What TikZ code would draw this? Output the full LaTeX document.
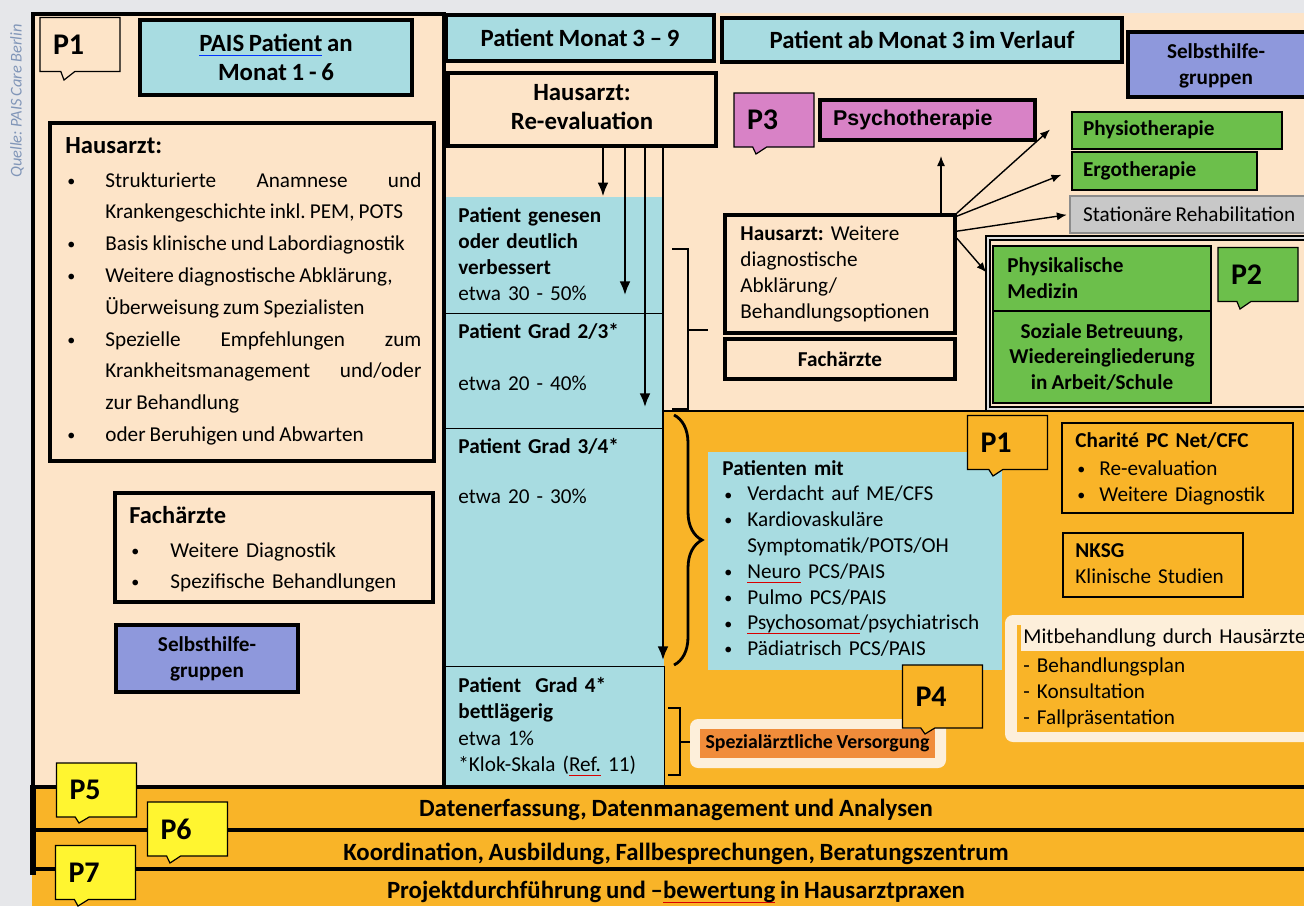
\documentclass[tikz,border=0pt]{standalone}
\usepackage{fontspec}
\setmainfont{Carlito}[WordSpace=0.85]
\newfontfamily\arialfont{Liberation Sans}
\usetikzlibrary{arrows.meta,fit,shapes.callouts,decorations.pathreplacing}
\definecolor{bggray}{HTML}{E6E7EA}
\definecolor{peach}{HTML}{FDE4C8}
\definecolor{tealc}{HTML}{A8DCE1}
\definecolor{orangec}{HTML}{F9B428}
\definecolor{purplec}{HTML}{8E98DC}
\definecolor{pinkc}{HTML}{D882C6}
\definecolor{greenc}{HTML}{6CBF4B}
\definecolor{grayc}{HTML}{C8C8C8}
\definecolor{yellowc}{HTML}{FFF530}
\definecolor{spezc}{HTML}{F08C3A}
\definecolor{creamc}{HTML}{FDEFDA}
\definecolor{quellec}{HTML}{8196B8}
\frenchspacing
\newsavebox{\ulbox}
\newcommand{\redwave}[1]{\sbox{\ulbox}{#1}\rlap{\textcolor{red!85!black}{\rule[-2.3pt]{\wd\ulbox}{0.5pt}}}\usebox{\ulbox}}
\newcommand{\blueline}[1]{\sbox{\ulbox}{#1}\rlap{\textcolor{blue!80!cyan}{\rule[-2.2pt]{\wd\ulbox}{0.6pt}}}\usebox{\ulbox}}
\newcommand{\fs}[2]{\fontsize{#1}{#2}\selectfont}
\newcommand{\bitem}[2]{\par\hangindent=#1\hangafter=1\noindent\makebox[#1][l]{\hspace{1pt}\raisebox{0.4pt}{\fs{8}{8}\textbullet}}#2}
\begin{document}
\begin{tikzpicture}[x=0.5pt,y=-0.5pt,font=\fs{10.6}{13},
box/.style={draw,line width=2pt,inner sep=0pt},
ptag/.style={rectangle callout,draw,line width=0.6pt,callout pointer width=7pt,inner xsep=6.5pt,inner ysep=0pt,text width=27pt,minimum height=27pt,align=left,font=\bfseries\fs{15}{15}},
txt/.style={anchor=base west,inner sep=0pt,align=left},
head/.style={font=\bfseries\fs{12.4}{14.5},align=center},
bold/.style={font=\bfseries\fs{10.6}{13},align=center},
arr/.style={-{Latex[length=5pt,width=4pt]},line width=0.7pt},
colarr/.style={-{Latex[length=7pt,width=5.5pt]},line width=1.4pt}]
\useasboundingbox (0,0) rectangle (1304,906);
\fill[bggray] (0,0) rectangle (1304,906);
\fill[peach] (32,13) rectangle (1312,787);
\fill[orangec] (664,411) rectangle (1312,787);
\fill[orangec] (32,787) rectangle (1312,906);
\node[rotate=90,font=\itshape\fs{8.2}{10},text=quellec] (quelle) at (17,101) {Quelle: PAIS Care Berlin};
\node[fill=tealc,inner sep=0pt,fit={(445,197)(664,313)}] (cella) {};
\node[fill=tealc,inner sep=0pt,fit={(445,313)(664,428)}] (cellb) {};
\node[fill=tealc,inner sep=0pt,fit={(445,428)(664,666)}] (cellc) {};
\node[fill=tealc,inner sep=0pt,fit={(445,666)(664,787)}] (celld) {};
\draw[line width=0.8pt] (cella.south west) -- (cella.south east);
\draw[line width=0.8pt] (cellb.south west) -- (cellb.south east);
\draw[line width=0.8pt] (cellc.south west) -- (cellc.south east);
\draw[line width=0.8pt] (celld.north east) -- (celld.south east);
\node[txt,text width=100pt] (cellatxt) at (458,222) {\textbf{Patient genesen}\\\textbf{oder deutlich}\\\textbf{verbessert}\\etwa 30 - 50\%};
\node[txt,text width=100pt] (cellbtxt) at (458,338) {\textbf{Patient Grad 2/3*}\\[13pt]etwa 20 - 40\%};
\node[txt,text width=100pt] (cellctxt) at (458,453) {\textbf{Patient Grad 3/4*}\\[12pt]etwa 20 - 30\%};
\node[txt,text width=100pt,font=\fs{10.6}{13.3}] (celldtxt) at (458,692) {\textbf{Patient\ \ Grad 4*}\\\textbf{bettlägerig}\\etwa 1\%\\{}*Klok-Skala (\redwave{Ref.} 11)};
\node[box,fit={(33,14)(444,787)}] (leftpanel) {};
\node[ptag,fill=peach,callout absolute pointer={(64,80)}] (pone) at (80,44.5) {P1};
\node[box,line width=2.2pt,fill=tealc,fit={(140,20)(412,95)}] (pais) {};
\node[head] (paistxt) at (pais) {\blueline{PAIS Patient} an\\Monat 1 - 6};
\node[box,line width=1.6pt,fit={(50,123)(434,461)}] (hausarzt) {};
\node[txt,text width=178pt,align=justify,font=\fs{10.6}{15.9}] (hausarzttxt) at (65,153) {{\bfseries\fs{12.3}{15.9}Hausarzt:}\par\vspace{1.1pt}\bitem{20pt}{Strukturierte Anamnese und\linebreak Krankengeschichte inkl. PEM, POTS}\bitem{20pt}{Basis klinische und Labordiagnostik}\bitem{20pt}{Weitere diagnostische Abklärung,\newline Überweisung zum Spezialisten}\bitem{20pt}{Spezielle Empfehlungen zum\linebreak Krankheitsmanagement und/oder\linebreak zur Behandlung}\bitem{20pt}{oder Beruhigen und Abwarten}};
\node[box,line width=1.6pt,fit={(115,493)(433,602)}] (fachlinks) {};
\node[txt,text width=150pt,font=\fs{10.6}{15.5}] (fachlinkstxt) at (129,523) {{\bfseries\fs{12.2}{15.5}Fachärzte}\par\vspace{1.5pt}\bitem{20.5pt}{Weitere Diagnostik}\bitem{20.5pt}{Spezifische Behandlungen}};
\node[box,fill=purplec,fit={(116,625)(298,692)}] (shgleft) {};
\node[bold] (shglefttxt) at (shgleft) {Selbsthilfe-\\gruppen};
\node[box,fill=tealc,fit={(446,15)(714,61)}] (hdrmid) {};
\node[head] (hdrmidtxt) at (hdrmid) {Patient Monat 3 – 9};
\node[box,fill=tealc,fit={(722,18)(1122,62)}] (hdrright) {};
\node[head] (hdrrighttxt) at (hdrright) {Patient ab Monat 3 im Verlauf};
\node[box,fill=purplec,fit={(1128,32)(1308,97)}] (shgright) {};
\node[bold] (shgrighttxt) at (1216,66) {Selbsthilfe-\\gruppen};
\node[box,fill=peach,fit={(448,73)(716,146)}] (reeval) {};
\node[head] (reevaltxt) at ([yshift=1pt]reeval.center) {Hausarzt:\\Re-evaluation};
\draw[colarr] (603,0 |- reeval.south) -- (603,0 |- cella.north);
\draw[colarr,shorten >=9pt] (625,0 |- reeval.south) -- (625,0 |- cella.south);
\draw[colarr,shorten >=10.5pt] (645,0 |- reeval.south) -- (645,0 |- cellb.south);
\draw[colarr,shorten >=3pt] (663,0 |- reeval.south) -- (663,0 |- cellc.south);
\draw[line width=1.1pt] (672,249) -- (688,249) -- (688,409) -- (672,409) (688,330) -- (708,330);
\draw[line width=1.4pt] (664,411) -- (1312,411);
\draw[line width=1.4pt,decorate,decoration={brace,amplitude=14pt}] (674,415) -- (674,665);
\draw[line width=1.3pt] (668,708) -- (680,708) -- (680,775) -- (668,775) (680,742) -- (690,742);
\node[fill=tealc,inner sep=0pt,fit={(708,452)(1002,670)}] (pmit) {};
\node[txt,text width=140pt,font=\fs{10.6}{12.9}] (pmittxt) at (722,475) {\textbf{Patienten mit}\bitem{12.5pt}{Verdacht auf ME/CFS}\bitem{12.5pt}{Kardiovaskuläre\newline Symptomatik/POTS/OH}\bitem{12.5pt}{\redwave{Neuro} PCS/PAIS}\bitem{12.5pt}{Pulmo PCS/PAIS}\bitem{12.5pt}{\redwave{Psychosomat}/psychiatrisch}\bitem{12.5pt}{Pädiatrisch PCS/PAIS}};
\node[ptag,fill=orangec,callout absolute pointer={(993,476)}] (poneb) at (1007.5,442.5) {P1};
\node[box,line width=1.4pt,fit={(1062,423)(1293,513)}] (charite) {};
\node[txt,text width=105pt] (charitetxt) at (1075,447) {\textbf{Charité PC Net/CFC}\par\vspace{1pt}\bitem{12pt}{Re-evaluation}\bitem{12pt}{Weitere Diagnostik}};
\node[box,line width=1.4pt,fit={(1063,533)(1243,597)}] (nksg) {};
\node[txt,text width=85pt] (nksgtxt) at (1075,557) {\textbf{NKSG}\\Klinische Studien};
\node[fill=creamc,rounded corners=4pt,inner sep=0pt,fit={(1005,615)(1312,742)}] (mitb) {};
\fill[orangec] (1017,625) rectangle (1312,732);
\fill[creamc] (1021,625) rectangle (1312,651);
\node[txt,text width=150pt] (mitbtxt) at (1023,643) {Mitbehandlung durch Hausärzte\\[1.5pt]- Behandlungsplan\\- Konsultation\\- Fallpräsentation};
\node[fill=creamc,rounded corners=4pt,inner sep=0pt,fit={(690,719)(946,768)}] (spezout) {};
\node[fill=spezc,inner sep=0pt,fit={(700,729)(935,758)}] (spez) {};
\node[font=\bfseries\fs{9.9}{12}] (speztxt) at (spez) {Spezialärztliche Versorgung};
\node[ptag,fill=orangec,minimum height=31.5pt,callout absolute pointer={(925,734)}] (pfour) at (942.5,696.5) {P4};
\node[ptag,fill=pinkc,callout absolute pointer={(756,154)}] (pthree) at (774,120) {P3};
\node[box,fill=pinkc,fit={(820,100)(1035,140)}] (psycho) {};
\node[anchor=west,font=\arialfont\bfseries\fs{10.7}{13}] (psychotxt) at (826,120) {Psychotherapie};
\node[box,line width=1.8pt,fit={(725,215)(955,333)}] (hawd) {};
\node[txt,text width=105pt] (hawdtxt) at (740,240) {\textbf{Hausarzt:} Weitere\\diagnostische\\Abklärung/\\Behandlungsoptionen};
\node[box,line width=1.8pt,fit={(725,339)(955,379)}] (fachrechts) {};
\node[bold] (fachrechtstxt) at (fachrechts) {Fachärzte};
\node[draw,line width=1.2pt,fill=greenc,inner sep=0pt,fit={(1072,112)(1282,149)}] (physio) {};
\node[bold,anchor=west] (physiotxt) at (1076,130) {Physiotherapie};
\node[draw,line width=1.2pt,fill=greenc,inner sep=0pt,fit={(1072,152)(1257,190)}] (ergo) {};
\node[bold,anchor=west] (ergotxt) at (1076,171) {Ergotherapie};
\node[draw=black!45,line width=1.2pt,fill=grayc,inner sep=0pt,fit={(1070,196)(1312,233)}] (reha) {};
\node[anchor=west] (rehatxt) at (1076,214) {Stationäre Rehabilitation};
\node[draw,line width=1.1pt,double=white!75!gray,double distance=1pt,inner sep=0pt,fit={(988,238)(1312,409)}] (ptwogrp) {};
\node[draw,line width=1.4pt,fill=greenc,inner sep=0pt,fit={(993,246)(1211,311)}] (physmed) {};
\node[txt,text width=100pt] (physmedtxt) at (1007,272) {\textbf{Physikalische}\\\textbf{Medizin}};
\node[draw,line width=1.4pt,fill=greenc,inner sep=0pt,fit={(993,311)(1211,403)}] (sozial) {};
\node[align=center,font=\bfseries\fs{10.6}{12.8}] (sozialtxt) at (sozial) {Soziale Betreuung,\\Wiedereingliederung\\in Arbeit/Schule};
\node[ptag,fill=greenc,callout absolute pointer={(1240,309)}] (ptwo) at (1258,274.5) {P2};
\draw[arr,shorten >=7pt] (941,0 |- hawd.north) -- (941,0 |- psycho.south);
\draw[arr,shorten >=14pt] (hawd.north east) -- (physio.north west);
\draw[arr,shorten >=5pt] ([yshift=-1.5pt]hawd.north east) -- (ergo.west);
\draw[arr,shorten >=1pt] ([yshift=-9pt]hawd.north east) -- (reha.west);
\draw[arr,shorten >=4pt] ([yshift=-12.5pt]hawd.north east) -- (physmed.west);
\draw[line width=2pt] (32,787) -- (1312,787);
\draw[line width=1.8pt] (32,830) -- (1312,830);
\draw[line width=1.8pt] (32,869) -- (1312,869);
\draw[line width=3pt] (33,785) -- (33,875);
\node[inner sep=0pt,fit={(48,790)(1304,830)}] (bara) {};
\node[head] (baratxt) at (bara) {Datenerfassung, Datenmanagement und Analysen};
\node[inner sep=0pt,fit={(48,834)(1304,874)}] (barb) {};
\node[head] (barbtxt) at (barb) {Koordination, Ausbildung, Fallbesprechungen, Beratungszentrum};
\node[inner sep=0pt,fit={(48,872)(1304,912)}] (barc) {};
\node[head] (barctxt) at (barc) {Projektdurchführung und –\redwave{bewertung} in Hausarztpraxen};
\node[ptag,fill=yellowc,callout absolute pointer={(79,823)}] (pfive) at (96.5,790) {P5};
\node[ptag,fill=yellowc,callout absolute pointer={(170,863)}] (psix) at (187.5,829) {P6};
\node[ptag,fill=yellowc,callout absolute pointer={(78,906)}] (pseven) at (95.5,872.5) {P7};
\end{tikzpicture}
\end{document}
